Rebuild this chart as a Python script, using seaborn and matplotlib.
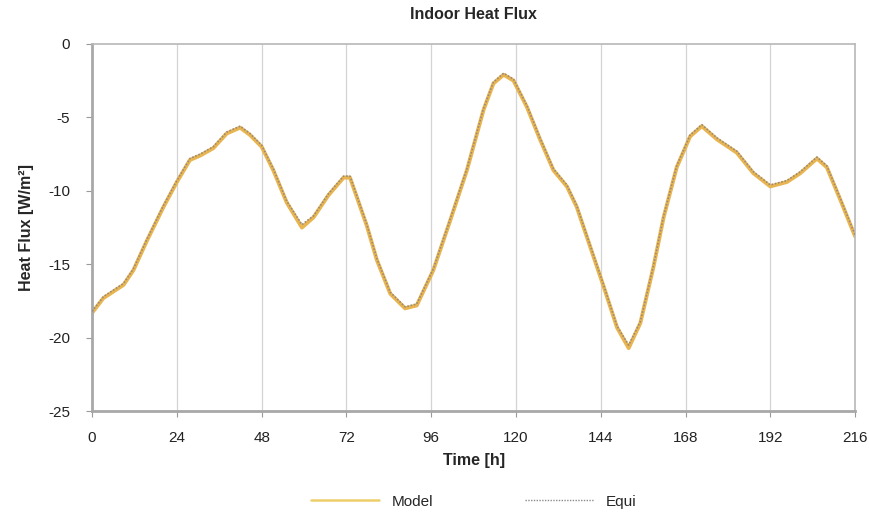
import matplotlib
matplotlib.use("Agg")
import matplotlib.pyplot as plt
import seaborn as sns
import pandas as pd

time_h = [0, 3.2, 8.9, 11.7, 15.5, 20.2, 24, 27.7, 30.6, 34.3, 38.1, 41.9, 44.7, 48, 51.3,
          55.1, 59.4, 62.7, 66.9, 71.2, 73, 74.9, 77.8, 80.6, 84.4, 88.6, 91.9, 96.6, 101.4,
          106.1, 110.8, 113.6, 116.5, 119.3, 123.1, 126.8, 130.6, 134.4, 137.2, 141, 144.8,
          148.6, 151.9, 155.2, 158.9, 161.8, 165.5, 169.3, 172.6, 176.9, 182.5, 187.2, 192,
          196.7, 200.5, 205.2, 208, 211.8, 216]
model = [-18.3, -17.3, -16.4, -15.4, -13.4, -11.1, -9.4, -7.9, -7.6, -7.1, -6.1, -5.7, -6.2,
         -7.0, -8.6, -10.8, -12.5, -11.8, -10.3, -9.1, -9.1, -10.4, -12.4, -14.7, -17.0, -18.0,
         -17.8, -15.4, -12.0, -8.6, -4.5, -2.7, -2.1, -2.5, -4.3, -6.5, -8.6, -9.7, -11.1, -13.8,
         -16.5, -19.3, -20.7, -19.0, -15.2, -11.8, -8.4, -6.3, -5.6, -6.5, -7.4, -8.8, -9.7,
         -9.4, -8.8, -7.8, -8.4, -10.6, -13.1]
equi = [-18.2, -17.2, -16.3, -15.3, -13.3, -11.0, -9.3, -7.8, -7.5, -7.0, -6.0, -5.6, -6.1,
        -6.9, -8.5, -10.7, -12.3, -11.7, -10.2, -9.0, -9.0, -10.3, -12.3, -14.6, -16.9, -17.9,
        -17.7, -15.3, -11.9, -8.5, -4.4, -2.6, -2.0, -2.4, -4.2, -6.4, -8.5, -9.6, -11.0, -13.7,
        -16.4, -19.2, -20.5, -18.9, -15.1, -11.7, -8.3, -6.2, -5.5, -6.4, -7.3, -8.7, -9.6,
        -9.3, -8.7, -7.7, -8.3, -10.5, -13.0]
x_ticks = [0, 24, 48, 72, 96, 120, 144, 168, 192, 216]
y_ticks = [0, -5, -10, -15, -20, -25]

df = pd.DataFrame({"Time": time_h, "Model": model, "Equi": equi})

sns.set_style("white")
plt.rcParams["font.family"] = ["Liberation Sans", "DejaVu Sans"]
plt.rcParams["axes.unicode_minus"] = False

fig = plt.figure(figsize=(8.69, 5.16), dpi=100)
ax = fig.add_axes([0.106, 0.203, 0.878, 0.712])

for xv in x_ticks[1:-1]:
    ax.axvline(xv, color="#d4d4d4", lw=0.9, zorder=0)

sns.lineplot(data=df, x="Time", y="Model", ax=ax, color="#e9b550", lw=2.8,
             label="Model", zorder=2, solid_joinstyle="round", solid_capstyle="round")
sns.lineplot(data=df, x="Time", y="Equi", ax=ax, color="#9a8a78", lw=1.2,
             linestyle=(0, (1, 1)), label="Equi", zorder=3)

ax.set_xlim(0, 216)
ax.set_ylim(-25, 0)
ax.set_xticks(x_ticks)
ax.set_yticks(y_ticks)
ax.tick_params(axis="both", labelsize=11, color="#999999", length=4, direction="out",
               bottom=True, left=True, labelcolor="#222222")
ax.tick_params(axis="x", pad=10)
ax.tick_params(axis="y", pad=12)
for side in ["left", "bottom"]:
    ax.spines[side].set_color("#a8a8a8")
    ax.spines[side].set_linewidth(2)
for side in ["top", "right"]:
    ax.spines[side].set_color("#b8b8b8")
    ax.spines[side].set_linewidth(1.2)

ax.set_xlabel("Time [h]", fontsize=11.5, fontweight="bold", labelpad=6)
ax.set_ylabel("Heat Flux [W/m²]", fontsize=11.5, fontweight="bold", labelpad=10)
ax.set_title("Indoor Heat Flux", fontsize=11.5, fontweight="bold", pad=18)

leg = ax.legend(loc="upper center", bbox_to_anchor=(0.5, -0.19), ncol=2, frameon=False,
                fontsize=11, handlelength=4.5, columnspacing=6)
handles = leg.legend_handles if hasattr(leg, "legend_handles") else leg.get_lines()
handles[0].set_linewidth(1.8)
handles[0].set_color("#edcf6a")
handles[1].set_linewidth(1.0)
handles[1].set_color("#8a8a8a")

fig.savefig("out.png", dpi=100)
